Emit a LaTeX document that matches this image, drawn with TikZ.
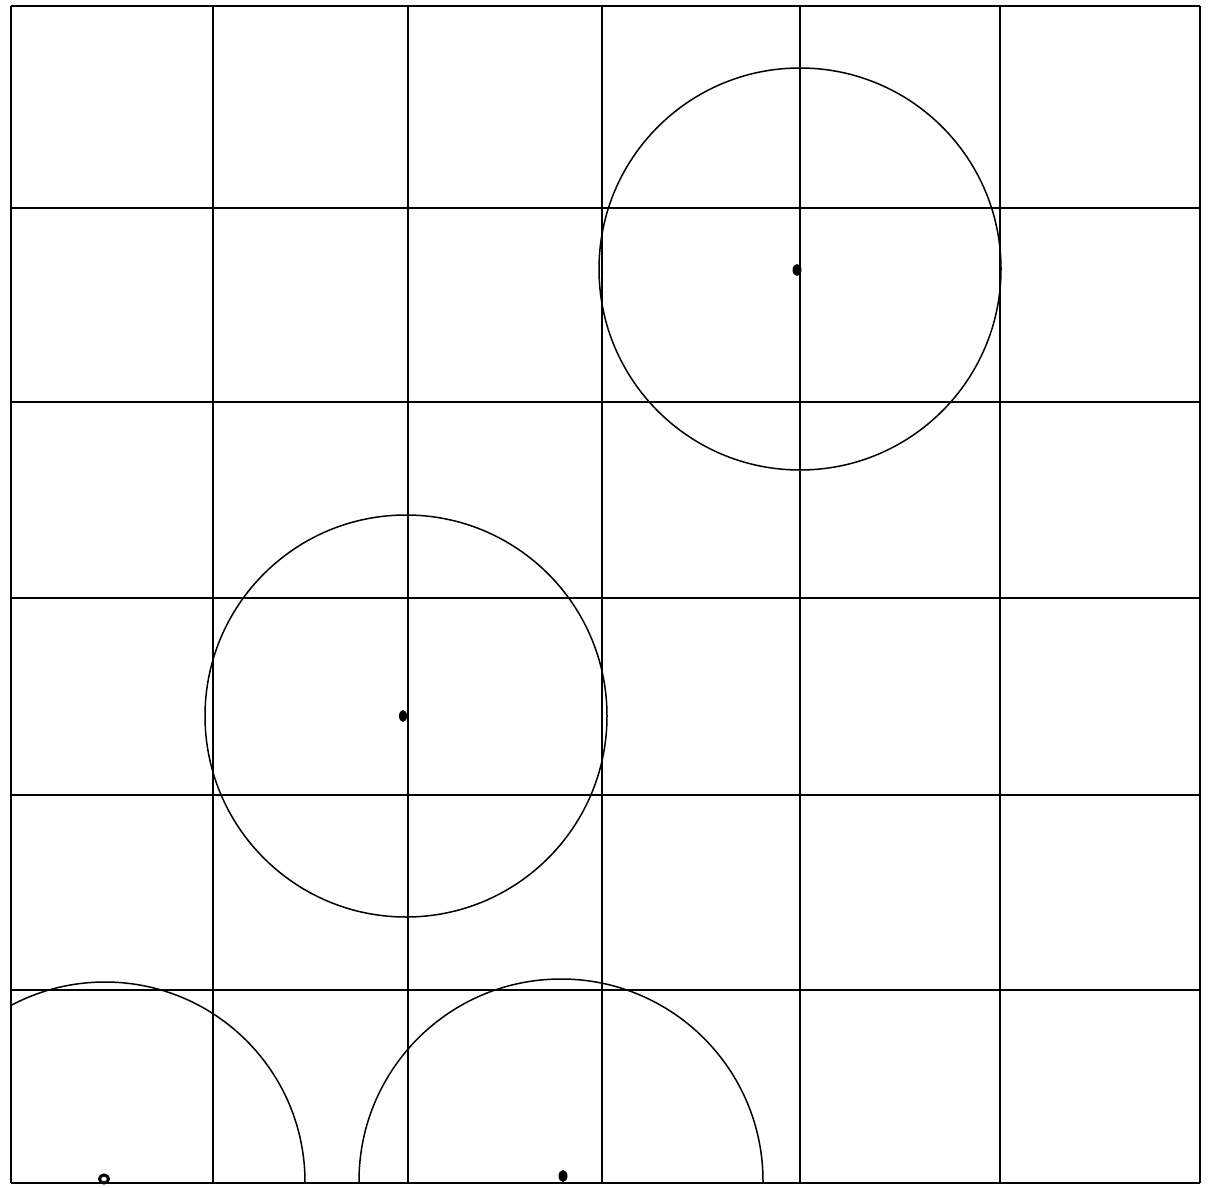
\documentclass[tikz,border=0pt]{standalone}
\begin{document}
\begin{tikzpicture}[x=0.5pt,y=-0.5pt,
  vline/.style={line width=1.2pt,black},
  hline/.style={line width=0.75pt,black},
  ring/.style={line width=0.75pt,black},
  centre/.style={fill=black}]
\useasboundingbox (0,0) rectangle (1208,1187);
% outer border
\draw[vline] (11,6) -- (11,1183);
\draw[vline] (1200,6) -- (1200,1183);
\draw[hline] (11,6) -- (1200,6);
\draw[hline] (11,1183) -- (1200,1183);
% grid
\foreach \x in {213,408,602,800,1000} \draw[vline] (\x,6) -- (\x,1183);
\foreach \y in {208,402,598,795,990} \draw[hline] (11,\y) -- (1200,\y);
% circles
\draw[ring] (800,269) circle[radius=201];
\draw[ring] (406,716) circle[radius=201];
\begin{scope}
\clip (11,6) rectangle (1200,1183);
\draw[ring] (105,1182) circle[radius=200];
\draw[ring] (561,1181) circle[radius=202];
\end{scope}
% centre marks
\fill[centre] (797,270) ellipse[x radius=4.5,y radius=6];
\fill[centre] (403,716) ellipse[x radius=4,y radius=6];
\fill[centre] (563,1176) ellipse[x radius=4.5,y radius=6];
\draw[line width=1.5pt] (104,1179) ellipse[x radius=4.5,y radius=4];
\end{tikzpicture}
\end{document}
